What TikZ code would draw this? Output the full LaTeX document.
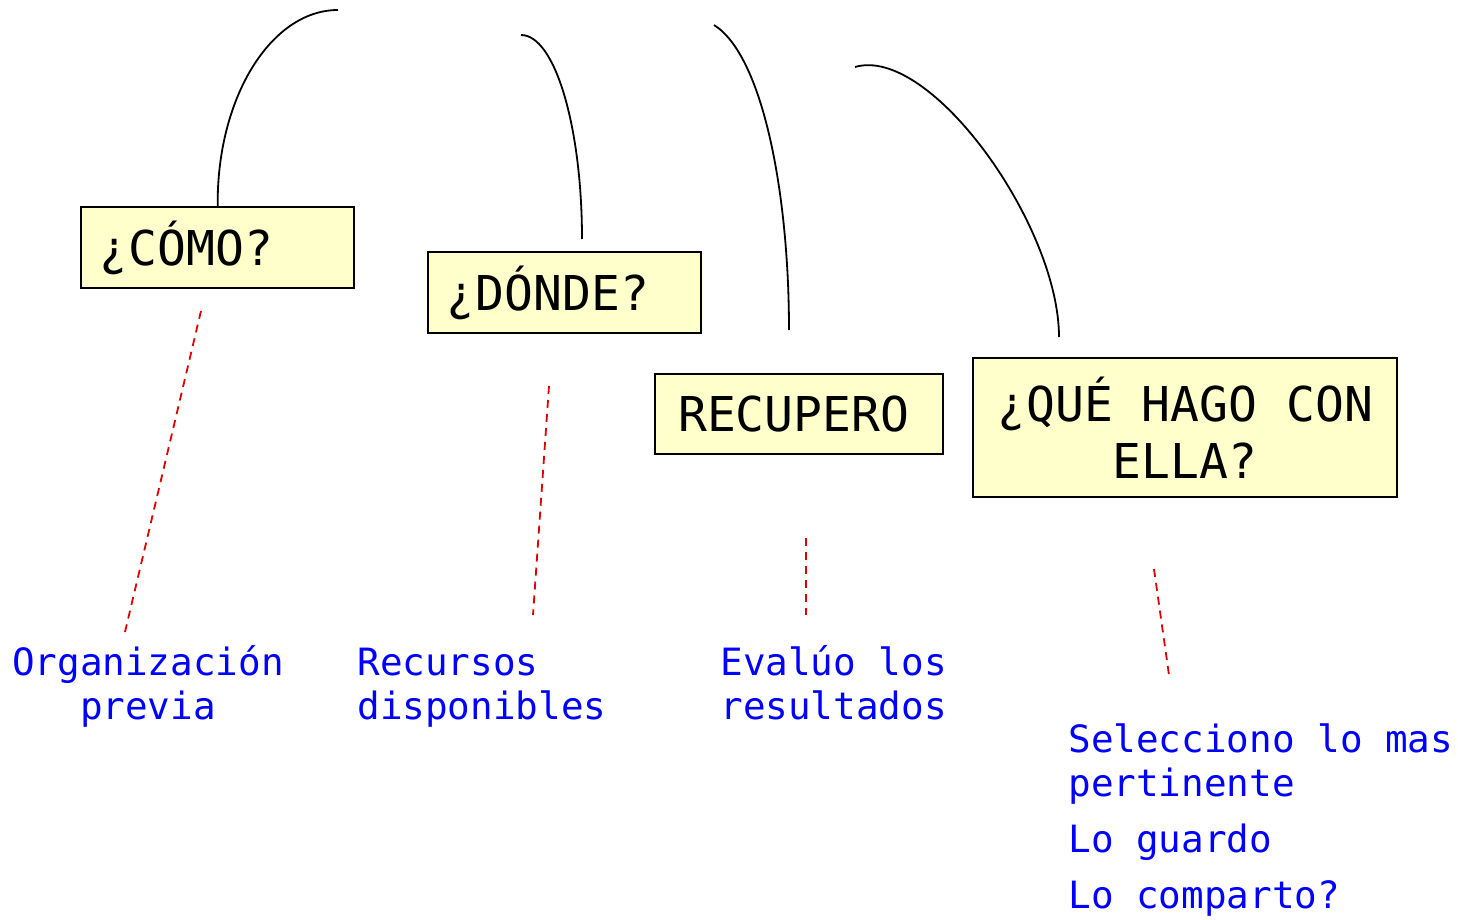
\documentclass[tikz,border=0pt]{standalone}
\usepackage{fontspec}
\setmainfont{DejaVu Sans Mono}
\definecolor{boxyellow}{HTML}{FFFFCC}
\definecolor{guidered}{HTML}{DD0000}
\definecolor{noteblue}{HTML}{0000FF}
\begin{document}
\begin{tikzpicture}[x=0.5pt,y=-0.5pt,
  box/.style={draw=black, line width=1.2pt, fill=boxyellow, inner sep=0pt,
    font=\fontsize{24}{28.5}\selectfont, anchor=north west,
    execute at begin node={\spaceskip=14.45pt\relax\xspaceskip=14.45pt\relax}},
  onebox/.style={box, text height=17.5pt, text depth=0pt, align=left},
  link/.style={line width=0.9pt},
  guide/.style={draw=guidered, line width=0.9pt, dash pattern=on 4pt off 3pt},
  note/.style={text=noteblue, font=\fontsize{18.8}{22}\selectfont, inner sep=0pt,
    execute at begin node={\spaceskip=11.32pt\relax\xspaceskip=11.32pt\relax}}
]
\useasboundingbox (0,0) rectangle (1458,920);

% boxes
\node[onebox, minimum width=136.5pt, minimum height=40.5pt, text width=118pt] (como) at (80,206) {¿CÓMO?};
\node[onebox, minimum width=136.5pt, minimum height=40.5pt, text width=118pt] (donde) at (427,251) {¿DÓNDE?};
\node[onebox, minimum width=144pt, minimum height=40pt, text width=121pt] (recupero) at (654,373) {RECUPERO};
\node[box, minimum width=212pt, minimum height=69.5pt, align=center] (quehago) at (972,357) {¿QUÉ HAGO CON\\ELLA?};

% curve end points
\coordinate (c1top) at (338,10);
\coordinate (c2top) at (521,35);
\coordinate (c2bot) at (582,239);
\coordinate (c3top) at (714,25);
\coordinate (c3bot) at (789,330);
\coordinate (c4top) at (855,67);
\coordinate (c4bot) at (1059,337);

\draw[link] (como.north) .. controls (216.5,98) and (271,10) .. (c1top);
\draw[link] (c2top) .. controls (555,35) and (582,127) .. (c2bot);
\draw[link] (c3top) .. controls (762,55) and (789,190) .. (c3bot);
\draw[link] (c4top) .. controls (930,45) and (1059,225) .. (c4bot);

% dashed guides
\coordinate (g1a) at (201,311); \coordinate (g1b) at (125,632);
\coordinate (g2a) at (549,386); \coordinate (g2b) at (533,615);
\coordinate (g3a) at (806,538); \coordinate (g3b) at (806,615);
\coordinate (g4a) at (1154,569); \coordinate (g4b) at (1169,675);
\draw[guide] (g1a) -- (g1b);
\draw[guide] (g2a) -- (g2b);
\draw[guide] (g3a) -- (g3b);
\draw[guide] (g4a) -- (g4b);

% notes
\node[note, text width=140pt, align=center, anchor=base] (n1) at (148,675) {Organización\\previa};
\node[note, text width=160pt, align=left, anchor=base west] (n2) at (357,675) {Recursos\\disponibles};
\node[note, text width=160pt, align=left, anchor=base west] (n3) at (720,675) {Evalúo los\\resultados};
\node[note, text width=200pt, align=left, anchor=base west] (n4) at (1068,752) {Selecciono lo mas\\pertinente\\[6pt]Lo guardo\\[6pt]Lo comparto?};
\end{tikzpicture}
\end{document}
